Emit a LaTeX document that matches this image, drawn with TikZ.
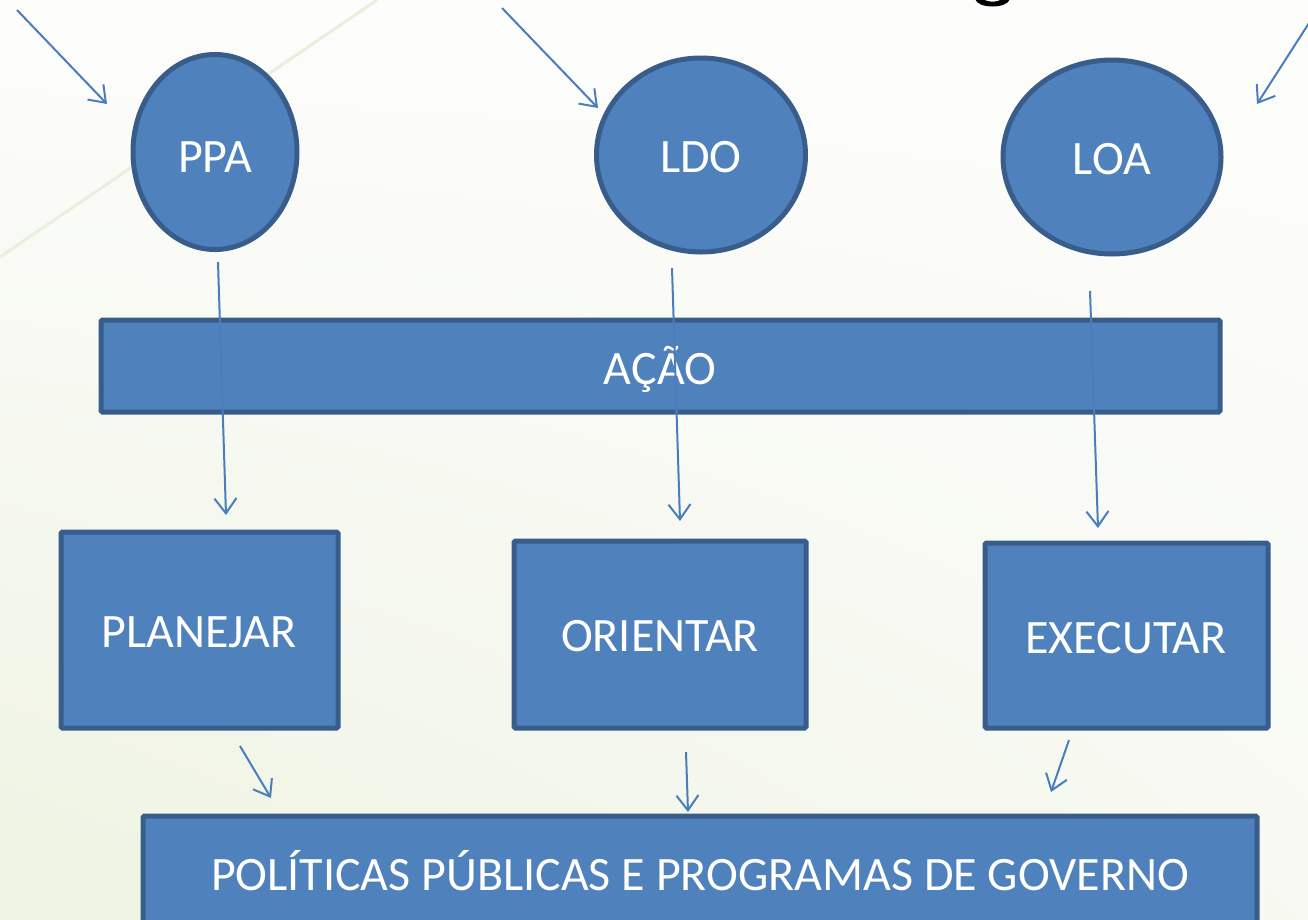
\documentclass[tikz,border=0pt]{standalone}
\usepackage{fontspec}
\setmainfont{Carlito}
\usetikzlibrary{arrows.meta,shapes.geometric,shadings}
\definecolor{boxfill}{HTML}{4F81BD}
\definecolor{boxline}{HTML}{385D8A}
\definecolor{arrowc}{HTML}{4A7EBB}
\definecolor{bgA}{HTML}{FDFDFC}
\definecolor{bgB}{HTML}{EEF3E2}
\definecolor{diag}{HTML}{E8EFDC}
\tikzset{
  shapebox/.style={draw=boxline, fill=boxfill, line width=5pt, text=white, inner sep=0pt},
  ovalbox/.style={shapebox, ellipse},
  rectbox/.style={shapebox, rectangle, rounded corners=1.5pt},
  conn/.style={draw=arrowc, line width=2pt, -{Straight Barb[length=15pt,width=22pt,line width=2pt]}},
  lbl/.style={text=white, inner sep=0pt, font=\fontsize{48}{56}\selectfont}
}
\begin{document}
\begin{tikzpicture}[x=1pt,y=-1pt]
\useasboundingbox (0,0) rectangle (1308,919);
% background
\shade[lower left=bgB, upper right=bgA, lower right=bgA!60!bgB, upper left=bgA] (0,0) rectangle (1308,919);
\draw[diag, line width=3pt] (0,257) -- (377,0);
% partial black glyph at the top edge
\fill[black] (975,-1) .. controls (978,9) and (1007,9) .. (1010,-1) -- (1001,-1) .. controls (999,2.5) and (986,2.5) .. (984,-1) -- cycle;
% ellipses
\node[ovalbox, minimum width=164pt, minimum height=195pt] (ppa) at (215,152) {};
\node[lbl] (tppa) at (215,157) {PPA};
\node[ovalbox, minimum width=209pt, minimum height=194pt] (ldo) at (701,155) {};
\node[lbl] (tldo) at (701,157) {LDO};
\node[ovalbox, minimum width=218pt, minimum height=194pt] (loa) at (1112,157) {};
\node[lbl] (tloa) at (1112,159) {LOA};
% rectangles
\node[rectbox, minimum width=1119pt, minimum height=92pt] (acao) at (660.5,366) {};
\node[lbl] (tacao) at (660,369) {AÇÃO};
\node[rectbox, minimum width=277pt, minimum height=196pt] (plan) at (199.5,630) {};
\node[lbl] (tplan) at (199,632) {PLANEJAR};
\node[rectbox, minimum width=292pt, minimum height=187pt] (orie) at (660,634.5) {};
\node[lbl] (torie) at (660,636) {ORIENTAR};
\node[rectbox, minimum width=283pt, minimum height=185pt] (exec) at (1126.5,635.5) {};
\node[lbl] (texec) at (1126,638) {EXECUTAR};
\node[rectbox, minimum width=1114pt, minimum height=120pt] (pol) at (700,876) {};
\node[lbl] (tpol) at (700,871) {POLÍTICAS PÚBLICAS E PROGRAMAS DE GOVERNO};
% free arrow ends
\coordinate (s1) at (17,10);    \coordinate (e1) at (107,104);
\coordinate (s2) at (502,8);    \coordinate (e2) at (598,108);
\coordinate (s3) at (1309,23);  \coordinate (e3) at (1257,104);
\coordinate (s4) at (218,262);  \coordinate (e4) at (226,515);
\coordinate (s5) at (672,268);  \coordinate (e5) at (680,521);
\coordinate (s6) at (1090,291); \coordinate (e6) at (1098,528);
\coordinate (s7) at (240,746);  \coordinate (e7) at (271,798);
\coordinate (s8) at (686,752);  \coordinate (e8) at (688,812);
\coordinate (s9) at (1069,740); \coordinate (e9) at (1051,792);
\foreach \i in {1,...,9} { \draw[conn] (s\i) -- (e\i); }
\end{tikzpicture}
\end{document}
